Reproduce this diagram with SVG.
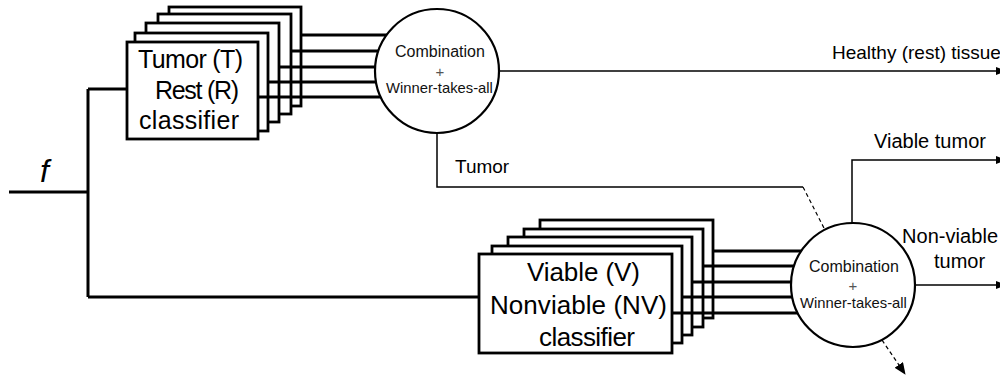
<svg xmlns="http://www.w3.org/2000/svg" width="1000" height="378" viewBox="0 0 1000 378">
<style>
text{font-family:"Liberation Sans",Arial,sans-serif;fill:#000}
.box{fill:#fff;stroke:#000;stroke-width:2.8}
.big{font-size:25px}
.big2{font-size:26px}
.comb{font-size:16px;fill:#111}
.wta{font-size:14.8px;fill:#111}
.plus{font-size:15px;fill:#555;text-anchor:middle}
.lbl{font-size:19px}
.lbl2{font-size:20px}
.thick{fill:none;stroke:#000;stroke-width:3}
.thin{fill:none;stroke:#000;stroke-width:1.5}
.dash{fill:none;stroke:#000;stroke-width:1.2;stroke-dasharray:4 3}
.circ{fill:#fff;stroke:#000;stroke-width:2.2}
</style>
<defs>
<marker id="ah" markerWidth="10" markerHeight="8" refX="1" refY="4" orient="auto" markerUnits="userSpaceOnUse">
<path d="M0,0 L10,4 L0,8 Z" fill="#000"/>
</marker>
<marker id="ahd" markerWidth="12" markerHeight="10" refX="11" refY="5" orient="auto" markerUnits="userSpaceOnUse">
<path d="M0,0 L12,5 L0,10 Z" fill="#000"/>
</marker>
</defs>

<g id="input">
<path class="thick" d="M9,192 H88 M88,89 V297"/>
<text x="40" y="182" style="font-size:32px;font-style:italic">f</text>
</g>

<g id="tr-classifier">
<rect class="box" x="169" y="7" width="132" height="99"/>
<rect class="box" x="158" y="14" width="133" height="100"/>
<rect class="box" x="146" y="23" width="133" height="99"/>
<rect class="box" x="135" y="33" width="133" height="98"/>
<rect class="box" x="127" y="42" width="131" height="97"/>
<text class="big" x="138" y="68" textLength="105">Tumor (T)</text>
<text class="big" x="155" y="99" textLength="84">Rest (R)</text>
<text class="big" x="139" y="129" textLength="100">classifier</text>
</g>

<g id="vnv-classifier">
<rect class="box" x="540" y="220" width="173" height="98"/>
<rect class="box" x="524" y="229" width="179" height="98"/>
<rect class="box" x="508" y="237" width="184" height="98"/>
<rect class="box" x="492" y="246" width="190" height="97"/>
<rect class="box" x="479" y="254" width="193" height="99"/>
<text class="big2" x="527" y="281" textLength="113">Viable (V)</text>
<text class="big2" x="490" y="314" textLength="177">Nonviable (NV)</text>
<text class="big2" x="539" y="346" textLength="96">classifier</text>
</g>

<g id="connectors">
<path class="thick" d="M88,89 H127 M88,297 H479"/>
<path class="thick" d="M301,35 H437 M291,51 H437 M279,67 H437 M268,82 H437 M258,97 H437"/>
<path class="thick" d="M713,251 H853 M703,266 H853 M692,282 H853 M682,297 H853 M672,313 H853"/>
<path class="thin" d="M499,71 H997" marker-end="url(#ah)"/>
<path class="thin" d="M437,133 V187 H803"/>
<path class="dash" d="M803,187 L825,230"/>
<path class="thin" d="M852,223 V160 H997" marker-end="url(#ah)"/>
<path class="thin" d="M915,285 H997" marker-end="url(#ah)"/>
<path class="dash" d="M882,340 L905,374" marker-end="url(#ahd)"/>
</g>

<g id="combine-1">
<circle class="circ" cx="437" cy="71" r="62"/>
<text class="comb" x="395" y="57">Combination</text>
<text class="plus" x="440" y="77">+</text>
<text class="wta" x="386" y="93">Winner-takes-all</text>
</g>

<g id="combine-2">
<circle class="circ" cx="853" cy="285" r="62"/>
<text class="comb" x="809" y="272">Combination</text>
<text class="plus" x="853" y="291">+</text>
<text class="wta" x="800" y="308">Winner-takes-all</text>
</g>

<g id="labels">
<text class="lbl" x="832" y="59">Healthy (rest) tissue</text>
<text class="lbl" x="455" y="173">Tumor</text>
<text class="lbl2" x="874" y="148">Viable tumor</text>
<text class="lbl2" x="902" y="243" textLength="96">Non-viable</text>
<text class="lbl2" x="934" y="268">tumor</text>
</g>
</svg>
